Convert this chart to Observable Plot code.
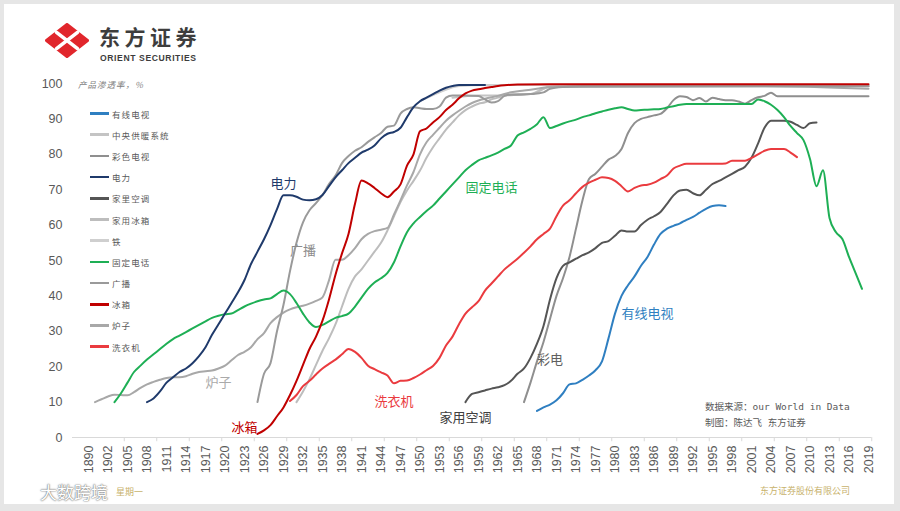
<!DOCTYPE html>
<html><head><meta charset="utf-8">
<script src="https://cdn.jsdelivr.net/npm/d3@7"></script>
<script src="https://cdn.jsdelivr.net/npm/@observablehq/plot@0.6"></script>
<style>
html,body{margin:0;padding:0}
body{background:#e6e6e6;width:900px;height:511px;overflow:hidden;position:relative;font-family:"Liberation Sans",Arial,sans-serif}
#card{position:absolute;left:4px;top:4px;width:890px;height:500px;background:#fff}
#chart{position:absolute;left:0;top:0}
.abs{position:absolute;white-space:nowrap;line-height:1}
#legend{position:absolute;left:90px;top:103px}
#legend .row{height:21.2px;display:flex;align-items:center}
#legend .sw{width:19px;height:2.6px;margin-right:3px}
#legend .lb{font-family:"Noto Sans CJK SC",sans-serif;font-size:8.5px;letter-spacing:1.1px;color:#595959}
</style></head>
<body>
<div id="card"></div>
<div id="chart"></div>
<svg class="abs" style="left:45px;top:23px" width="44" height="35" viewBox="0 0 44 35">
  <path d="M22 1.5 L42.5 17.5 L22 33.5 L1.5 17.5 Z" fill="#e1262c" stroke="#e1262c" stroke-width="3" stroke-linejoin="round"/>
  <path d="M11.5 9.3 L32.5 25.7 M32.5 9.3 L11.5 25.7" stroke="#fff" stroke-width="3.6" stroke-linecap="round"/>
</svg>
<div class="abs" style="left:99px;top:26px;font-family:'Noto Sans CJK SC';font-weight:700;font-size:21px;color:#3d3d3d;letter-spacing:4.5px">东方证券</div>
<div class="abs" style="left:100px;top:53.5px;font-family:'Liberation Sans';font-weight:700;font-size:8.6px;color:#3d3d3d;letter-spacing:0.6px">ORIENT SECURITIES</div>
<div class="abs" style="left:78px;top:80px;font-family:'Noto Sans CJK SC';font-style:italic;font-size:8.5px;letter-spacing:1px;color:#7f7f7f">产品渗透率，%</div>
<div id="legend"></div>
<div class="abs" style="left:705px;top:399px;font-family:'DejaVu Sans Mono','Noto Sans CJK SC';font-size:9.5px;color:#595959;line-height:16px">数据来源：our World in Data<br>制图：陈达飞 东方证券</div>
<div class="abs" style="left:760px;top:486px;font-family:'Noto Sans CJK SC';font-size:9px;color:#c8b26c">东方证券股份有限公司</div>
<div class="abs" style="left:40px;top:483px;font-family:'Noto Sans CJK SC';font-size:17px;color:#fff;text-shadow:0 0 2px #777,0 0 1px #555">大数跨境</div>
<div class="abs" style="left:116px;top:487px;font-family:'Noto Sans CJK SC';font-size:9px;color:#c8b26c">星期一</div>
<script>
// x categories (Excel category axis): 1890, then 1900..2019
const categories = [1890, ...d3.range(1900, 2020)];
const xTickLabels = categories.filter((d, i) => i % 3 === 0);
const yTicks = [0, 10, 20, 30, 40, 50, 60, 70, 80, 90, 100];

// series: [year, penetration %]
const cableTV = [[1968,7.5],[1969,8.5],[1970,9.3],[1971,10.5],[1972,12.5],[1973,15],[1974,15.3],[1975,16.3],[1976,17.5],[1977,19],[1978,21.5],[1979,28],[1980,35],[1981,40],[1982,43],[1983,45.5],[1984,48.5],[1985,51],[1986,54.5],[1987,57.5],[1988,59],[1989,59.8],[1990,60.5],[1991,61.5],[1992,62.3],[1993,63.5],[1994,64.6],[1995,65.4],[1996,65.6],[1997,65.4]];
const centralHeating = [[1955,96],[1959,96.6],[1962,96.6],[1965,96.8],[1967,97],[1969,98.6],[1971,99.3],[1990,99.3],[2019,99.3]];
const colorTV = [[1966,10],[1967,15.5],[1968,21.5],[1969,27],[1970,33.5],[1971,40],[1972,45],[1973,51],[1974,59],[1975,67],[1976,73],[1977,74.5],[1978,76.5],[1979,78.5],[1980,79.5],[1981,81.5],[1982,86],[1983,88.8],[1984,90],[1985,90.5],[1986,91],[1987,91.4],[1988,93],[1989,95.3],[1990,96.4],[1991,96.2],[1992,95.3],[1993,95.9],[1994,94.9],[1995,96],[1996,95.6],[1997,95.3],[1998,95.3],[1999,94.9],[2000,94.3],[2001,95.3],[2002,96.1],[2003,96.5],[2004,97.4],[2005,96.4],[2008,96.4],[2012,96.4],[2016,96.4],[2019,96.4]];
const electricity = [[1908,10],[1909,11],[1910,13],[1911,15.5],[1912,17],[1913,18.5],[1914,19.5],[1915,21],[1916,23],[1917,25.5],[1918,29],[1919,32],[1920,35],[1921,38],[1922,41],[1923,44.5],[1924,49],[1925,52.5],[1926,56],[1927,60],[1928,64.5],[1929,68.4],[1930,68.4],[1931,68],[1932,67.2],[1933,67],[1934,67.3],[1935,68.5],[1936,71],[1937,73.5],[1938,75.5],[1939,77.5],[1940,79],[1941,80.5],[1942,81.3],[1943,82.5],[1944,84.5],[1945,85.8],[1946,86.3],[1947,87.5],[1948,90.5],[1949,93.3],[1950,95],[1951,96],[1952,97],[1953,98],[1954,98.8],[1955,99.3],[1956,99.6],[1958,99.6],[1960,99.6]];
const homeAC = [[1957,10],[1958,12.3],[1959,12.8],[1960,13.3],[1961,13.8],[1962,14.2],[1963,14.8],[1964,16],[1965,18],[1966,19.5],[1967,22.5],[1968,26.5],[1969,31.5],[1970,39],[1971,45],[1972,48.5],[1973,49.5],[1974,50.5],[1975,51.5],[1976,52.3],[1977,53.5],[1978,55],[1979,55.5],[1980,57],[1981,58.5],[1982,58.2],[1983,58.2],[1984,60],[1985,61.5],[1986,62.5],[1987,63.7],[1988,66],[1989,68.4],[1990,69.8],[1991,70],[1992,69],[1993,68.4],[1994,70],[1995,71.6],[1996,72.5],[1997,73.5],[1998,74.5],[1999,75.5],[2000,76.5],[2001,79],[2002,83],[2003,87.5],[2004,89.5],[2005,89.5],[2006,89.5],[2007,89.2],[2008,88.3],[2009,87.4],[2010,88.8],[2011,89]];
const freezer = [[1931,10],[1932,13],[1933,16.5],[1934,20.5],[1935,24.5],[1936,28],[1937,32],[1938,37],[1939,42],[1940,45.5],[1941,47.5],[1942,50],[1943,52.5],[1944,55],[1945,58.5],[1946,62.5],[1947,66.5],[1948,69.8],[1949,72.5],[1950,75.4],[1951,79],[1952,82],[1953,84.5],[1954,87],[1955,89],[1956,91],[1957,92.5],[1958,93.5],[1959,94.3],[1960,94.7],[1961,95.5],[1962,96],[1963,96.6],[1965,97],[1967,97],[1968,97.5],[1969,98.5],[1970,99],[1975,99.3],[2000,99.3],[2019,99.3]];
const iron = [[1950,95],[1953,97.5],[1956,99.3],[1960,99.6],[1990,99.5],[2019,99.5]];
const landline = [[1903,10],[1904,12.5],[1905,15.5],[1906,18.5],[1907,20.3],[1908,22],[1909,23.5],[1910,25],[1911,26.5],[1912,27.8],[1913,28.8],[1914,29.8],[1915,30.8],[1916,31.8],[1917,32.8],[1918,33.8],[1919,34.4],[1920,34.8],[1921,35],[1922,36],[1923,37],[1924,37.8],[1925,38.5],[1926,39],[1927,39.3],[1928,40.5],[1929,41.5],[1930,40.5],[1931,38],[1932,35],[1933,32.5],[1934,31.2],[1935,31.8],[1936,32.8],[1937,33.8],[1938,34.3],[1939,35],[1940,37],[1941,39.5],[1942,42],[1943,43.8],[1944,45],[1945,46.5],[1946,49.5],[1947,54],[1948,58],[1949,60.5],[1950,62.3],[1951,64],[1952,65.5],[1953,67.5],[1954,69.5],[1955,71.5],[1956,73.5],[1957,75.5],[1958,77],[1959,78.3],[1960,79],[1961,79.7],[1962,80.5],[1963,81.5],[1964,82.5],[1965,85.3],[1966,86.2],[1967,87.2],[1968,88.5],[1969,90.5],[1970,87.4],[1971,88],[1972,88.7],[1973,89.3],[1974,89.8],[1975,90.5],[1976,91],[1977,91.6],[1978,92.1],[1979,92.6],[1980,93],[1981,93.3],[1982,92.8],[1983,92.4],[1984,92.5],[1985,92.6],[1986,92.7],[1987,92.8],[1988,93.2],[1989,93.6],[1990,94],[1991,94.2],[1995,94.2],[1998,94.2],[2001,94.2],[2002,95.5],[2003,95],[2004,94],[2005,92.5],[2006,90.5],[2007,88],[2008,86],[2009,84],[2010,78.7],[2011,71],[2012,75.5],[2013,62],[2014,58],[2015,56],[2016,51],[2017,46.5],[2018,42]];
const radio = [[1925,10],[1926,18],[1927,21],[1928,30],[1929,37.5],[1930,47],[1931,55],[1932,60.8],[1933,64.2],[1934,66.2],[1935,68.5],[1936,71.6],[1937,74],[1938,77.5],[1939,79.5],[1940,81],[1941,82],[1942,83.5],[1943,84.8],[1944,86],[1945,87.8],[1946,88.1],[1947,91.5],[1948,92.8],[1949,93.3],[1950,93],[1951,92.8],[1952,92.8],[1953,93.5],[1954,96],[1955,96.6],[1957,96.6],[1959,96.5],[1960,95.5],[1961,94.6],[1962,95],[1963,96.5],[1964,96.8],[1965,96.8],[1967,97],[1969,97.5],[1970,98.5],[1972,99],[1975,99.2],[2000,99.2],[2019,99.2]];
const refrigerator = [[1925,1],[1926,2],[1927,3.5],[1928,6],[1929,8.5],[1930,12],[1931,16],[1932,20.5],[1933,25],[1934,28.5],[1935,33],[1936,39],[1937,46],[1938,52],[1939,57.5],[1940,66],[1941,72.6],[1942,71.8],[1943,70.5],[1944,69],[1945,67.9],[1946,69.5],[1947,71.5],[1948,76.8],[1949,80],[1950,86.5],[1951,87.3],[1952,89],[1953,90.5],[1954,92.5],[1955,94],[1956,95.8],[1957,97.2],[1958,98],[1959,98.4],[1960,98.7],[1961,99],[1962,99.3],[1963,99.5],[1965,99.7],[1970,99.8],[1990,99.8],[2019,99.8]];
const stove = [[1900,10],[1901,10.8],[1902,11.6],[1903,12.1],[1904,12],[1905,11.9],[1906,12.8],[1907,14],[1908,15],[1909,15.7],[1910,16.3],[1911,16.8],[1912,17],[1913,17],[1914,17.3],[1915,18],[1916,18.5],[1917,18.7],[1918,18.9],[1919,19.5],[1920,20.3],[1921,21.8],[1922,23.3],[1923,24.2],[1924,25.5],[1925,27.8],[1926,29.5],[1927,32.3],[1928,34],[1929,35.3],[1930,36.2],[1931,36.8],[1932,37.2],[1933,37.8],[1934,38.6],[1935,39.6],[1936,44.4],[1937,50.2],[1938,50.2],[1939,51.5],[1940,53.5],[1941,56],[1942,57.5],[1943,58.3],[1944,58.7],[1945,59.2],[1946,63],[1947,67],[1948,71.2],[1949,75],[1950,80],[1951,83.4],[1952,85.5],[1953,87.5],[1954,89.5],[1955,91],[1956,92.3],[1957,93.5],[1958,94.5],[1959,95.2],[1960,95.7],[1962,96.5],[1964,97.5],[1966,98],[1968,98.5],[1970,99],[2003,99.2],[2019,98.5]];
const washer = [[1930,10.3],[1931,12],[1932,14.5],[1933,16],[1934,17.8],[1935,19.5],[1936,20.8],[1937,22],[1938,23.5],[1939,25],[1940,24.2],[1941,22.5],[1942,20.3],[1943,19.3],[1944,18.4],[1945,17.5],[1946,15.3],[1947,16],[1948,16.1],[1949,16.8],[1950,17.8],[1951,19],[1952,20.2],[1953,22.5],[1954,26],[1955,28.5],[1956,32],[1957,35],[1958,36.8],[1959,38.5],[1960,41.5],[1961,43.5],[1962,45.5],[1963,47.5],[1964,49],[1965,50.5],[1966,52.2],[1967,54],[1968,56],[1969,57.5],[1970,59],[1971,62.5],[1972,65.5],[1973,67],[1974,69],[1975,70.8],[1976,72],[1977,72.8],[1978,73.5],[1979,73.3],[1980,72.5],[1981,71],[1982,69.5],[1983,70.5],[1984,71.2],[1985,71.4],[1986,72],[1987,73],[1988,74],[1989,76],[1990,76.8],[1991,77.3],[1994,77.3],[1996,77.3],[1997,77.4],[1998,78.2],[1999,78.2],[2000,78.2],[2001,79],[2002,80],[2003,81],[2004,81.5],[2005,81.5],[2006,81.5],[2007,80.5],[2008,79.2]];

// legend order as in the reference
const seriesNames = ["有线电视","中央供暖系统","彩色电视","电力","家里空调","家用冰箱","铁","固定电话","广播","冰箱","炉子","洗衣机"];
const seriesData = [cableTV, centralHeating, colorTV, electricity, homeAC, freezer, iron, landline, radio, refrigerator, stove, washer];
const seriesColors = ["#2f7fc1","#c4c4c4","#8f8f8f","#1f3a6b","#555555","#bdbdbd","#cfcfcf","#1eaf55","#9a9a9a","#c00000","#a8a8a8","#ea3b3f"];
// draw order (bottom to top)
const drawOrder = ["铁","中央供暖系统","家用冰箱","炉子","广播","彩色电视","家里空调","有线电视","洗衣机","固定电话","电力","冰箱"];

// inline labels: text, year, value, colour
const labelText = ["电力","广播","炉子","冰箱","洗衣机","家用空调","彩电","有线电视","固定电话"];
const labelYear = [1929,1932,1919,1923,1946,1957,1970,1985,1961];
const labelValue = [71.7,52.8,15.5,2.8,10.2,5.6,21.8,35,70.6];
const labelColor = ["#1f3a6b","#8c8c8c","#aaaaaa","#c00000","#ea3b3f","#404040","#606060","#2f7fc1","#1eaf55"];

const lineMarks = drawOrder.map(name => {
  const i = seriesNames.indexOf(name);
  const rows = seriesData[i].map(([year, value]) => ({year, value}));
  return Plot.line(rows, {x: "year", y: "value", stroke: seriesColors[i], strokeWidth: 2, curve: "monotone-x"});
});
const textMarks = labelText.map((t, i) => Plot.text([{year: labelYear[i], value: labelValue[i], t}], {
  x: "year", y: "value", text: "t", fill: labelColor[i], fontSize: 13, fontFamily: "Noto Sans CJK SC", letterSpacing: "1px"
}));
const tickYears = categories.filter((d, i) => i > 0 && i % 5 === 0);

const chart = Plot.plot({
  width: 900, height: 511,
  marginLeft: 88, marginRight: 32, marginTop: 83, marginBottom: 74,
  x: {type: "point", domain: categories, padding: 0, label: null},
  y: {domain: [0, 100], label: null},
  style: {fontFamily: "Liberation Sans, Arial, sans-serif", background: "transparent", overflow: "visible"},
  marks: [
    Plot.ruleY([0], {stroke: "#d9d9d9", insetLeft: -16, insetRight: -3}),
    Plot.ruleX(tickYears, {x: d => d, y1: 0, y2: -1.2, stroke: "#d9d9d9", dx: 3.25}),
    Plot.axisY({ticks: yTicks, tickSize: 0, tickPadding: 26, fontSize: 12.5, fill: "#595959", label: null}),
    Plot.axisX({ticks: xTickLabels, tickRotate: -90, tickSize: 0, tickPadding: 8, fontSize: 12.5, fill: "#595959", tickFormat: d => String(d), label: null}),
    ...lineMarks,
    ...textMarks
  ]
});
document.getElementById("chart").appendChild(chart);

// legend (HTML, built from the series arrays)
const legend = document.getElementById("legend");
seriesNames.forEach((name, i) => {
  const row = document.createElement("div");
  row.className = "row";
  row.innerHTML = `<span class="sw" style="background:${seriesColors[i]}"></span><span class="lb">${name}</span>`;
  legend.appendChild(row);
});
</script>
</body></html>
